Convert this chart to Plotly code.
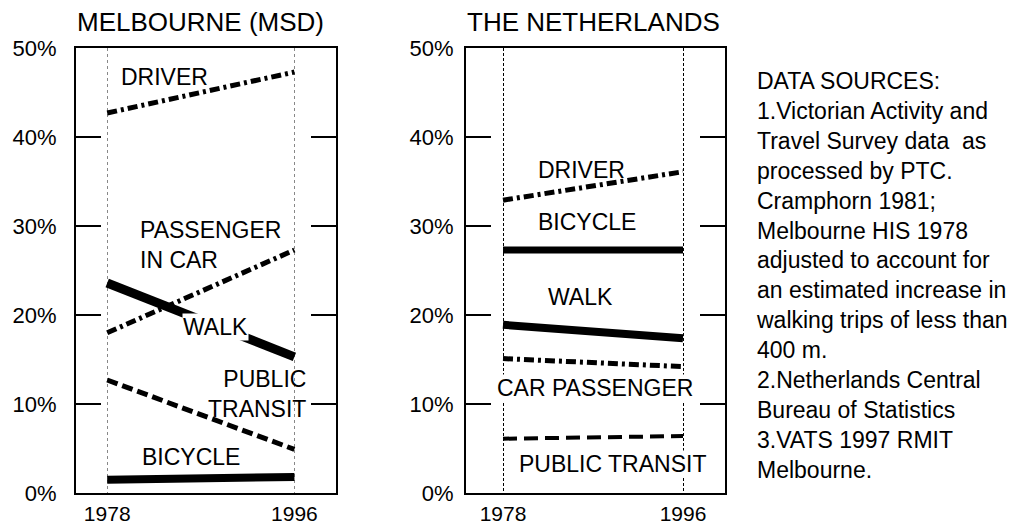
import plotly.graph_objects as go

years = [1978, 1996]

# Melbourne (MSD) mode shares, %
mel_driver = [42.7, 47.3]
mel_passenger = [18.0, 27.3]
mel_walk = [23.6, 15.3]
mel_transit = [12.7, 4.9]
mel_bicycle = [1.5, 1.8]

# The Netherlands mode shares, %
nl_driver = [32.9, 36.1]
nl_bicycle = [27.3, 27.3]
nl_walk = [18.9, 17.4]
nl_passenger = [15.1, 14.2]
nl_transit = [6.1, 6.4]

y_ticks = [0, 10, 20, 30, 40, 50]
y_tick_text = ["0%", "10%", "20%", "30%", "40%", "50%"]

FONT = "Liberation Sans, Arial, Helvetica, sans-serif"
DASHDOT = "10px,4px,3px,4px"

fig = go.Figure()

def add_line(x, y, axis, width, dash="solid"):
    xa, ya = axis
    fig.add_trace(go.Scatter(x=x, y=y, mode="lines", xaxis=xa, yaxis=ya,
                             line=dict(color="black", width=width, dash=dash),
                             hoverinfo="skip", showlegend=False))

L = ("x", "y")
R = ("x2", "y2")
add_line(years, mel_driver, L, 5, DASHDOT)
add_line(years, mel_passenger, L, 5, DASHDOT)
add_line(years, mel_walk, L, 9)
add_line(years, mel_transit, L, 5, "11px,5px")
add_line(years, mel_bicycle, L, 8)

add_line(years, nl_driver, R, 5, DASHDOT)
add_line(years, nl_bicycle, R, 7)
add_line(years, nl_walk, R, 8)
add_line(years, nl_passenger, R, 5, DASHDOT)
add_line(years, nl_transit, R, 4, "14px,7px")

W, H = 1020, 528
ydom = [1 - 493 / H, 1 - 48 / H]

def xaxis(dom, rng, gridcolor, griddash):
    return dict(domain=dom, range=rng, tickvals=years, ticks="", showline=True,
                linecolor="black", linewidth=2, mirror=True, zeroline=False,
                showgrid=True, gridcolor=gridcolor, griddash=griddash, gridwidth=1,
                tickfont=dict(family=FONT, size=21, color="black"),
                ticklabelstandoff=1, automargin=False, fixedrange=True)

def yaxis(anchor, standoff):
    return dict(domain=ydom, range=[0, 50], anchor=anchor, tickvals=y_ticks,
                ticktext=y_tick_text, ticks="inside", ticklen=25, tickwidth=2,
                tickcolor="black", showline=True, linecolor="black", linewidth=2,
                mirror="allticks", zeroline=False, showgrid=False,
                tickfont=dict(family=FONT, size=22, color="black"),
                ticklabelstandoff=standoff, automargin=False, fixedrange=True)

fig.update_layout(
    width=W, height=H, autosize=False,
    margin=dict(l=0, r=0, t=0, b=0, pad=0, autoexpand=False),
    paper_bgcolor="white", plot_bgcolor="white",
    showlegend=False,
    xaxis=xaxis([76 / W, 336 / W], [1975, 2000], "#888888", "dot"),
    yaxis=yaxis("x", 13),
    xaxis2=dict(xaxis([466 / W, 725 / W], [1974.3, 2000.2], "black", "3px,2px"), anchor="y2"),
    yaxis2=yaxis("x2", 6),
)

def label(text, x, y, ax, xanchor="center", align="center", bg=None):
    xa, ya = ax
    fig.add_annotation(text=text, x=x, y=y, xref=xa, yref=ya, xanchor=xanchor,
                       yanchor="middle", align=align, showarrow=False,
                       bgcolor=bg, borderpad=0,
                       font=dict(family=FONT, size=23, color="black"))

# Titles
fig.add_annotation(text="MELBOURNE (MSD)", x=0, y=1 - 22 / H, xref="x domain", yref="paper",
                   xanchor="left", yanchor="middle", showarrow=False, borderpad=0,
                   font=dict(family=FONT, size=26, color="black"))
fig.add_annotation(text="THE NETHERLANDS", x=0, y=1 - 22 / H, xref="x2 domain", yref="paper",
                   xanchor="left", yanchor="middle", showarrow=False, borderpad=0,
                   font=dict(family=FONT, size=26, color="black"))

# Melbourne labels
label("DRIVER", 1979.2, 46.7, L, xanchor="left")
label("PASSENGER<br>IN CAR", 1981.1, 27.9, L, xanchor="left", align="left")
label("WALK", 1988.4, 18.6, L, bg="white")
label("PUBLIC<br>TRANSIT", 1997.2, 11.1, L, xanchor="right", align="right")
label("BICYCLE", 1986.1, 4.0, L)

# Netherlands labels
label("DRIVER", 1981.4, 36.3, R, xanchor="left")
label("BICYCLE", 1981.4, 30.4, R, xanchor="left")
label("WALK", 1985.7, 22.0, R)
label("CAR PASSENGER", 1987.2, 11.8, R, bg="white")
label("PUBLIC TRANSIT", 1988.9, 3.3, R, bg="white")

sources = [
    "DATA SOURCES:",
    "1.Victorian Activity and",
    "Travel Survey data  as",
    "processed by PTC.",
    "Cramphorn 1981;",
    "Melbourne HIS 1978",
    "adjusted to account for",
    "an estimated increase in",
    "walking trips of less than",
    "400 m.",
    "2.Netherlands Central",
    "Bureau of Statistics",
    "3.VATS 1997 RMIT",
    "Melbourne.",
]
fig.add_annotation(text="<br>".join(sources), x=755 / W, y=1 - 275 / H, xref="paper", yref="paper",
                   xanchor="left", yanchor="middle", align="left", showarrow=False, borderpad=0,
                   font=dict(family=FONT, size=23, color="black"))

fig.write_html("out.html", config={"displayModeBar": False},
               post_script="document.body.style.margin='0';document.body.style.overflow='hidden';")
